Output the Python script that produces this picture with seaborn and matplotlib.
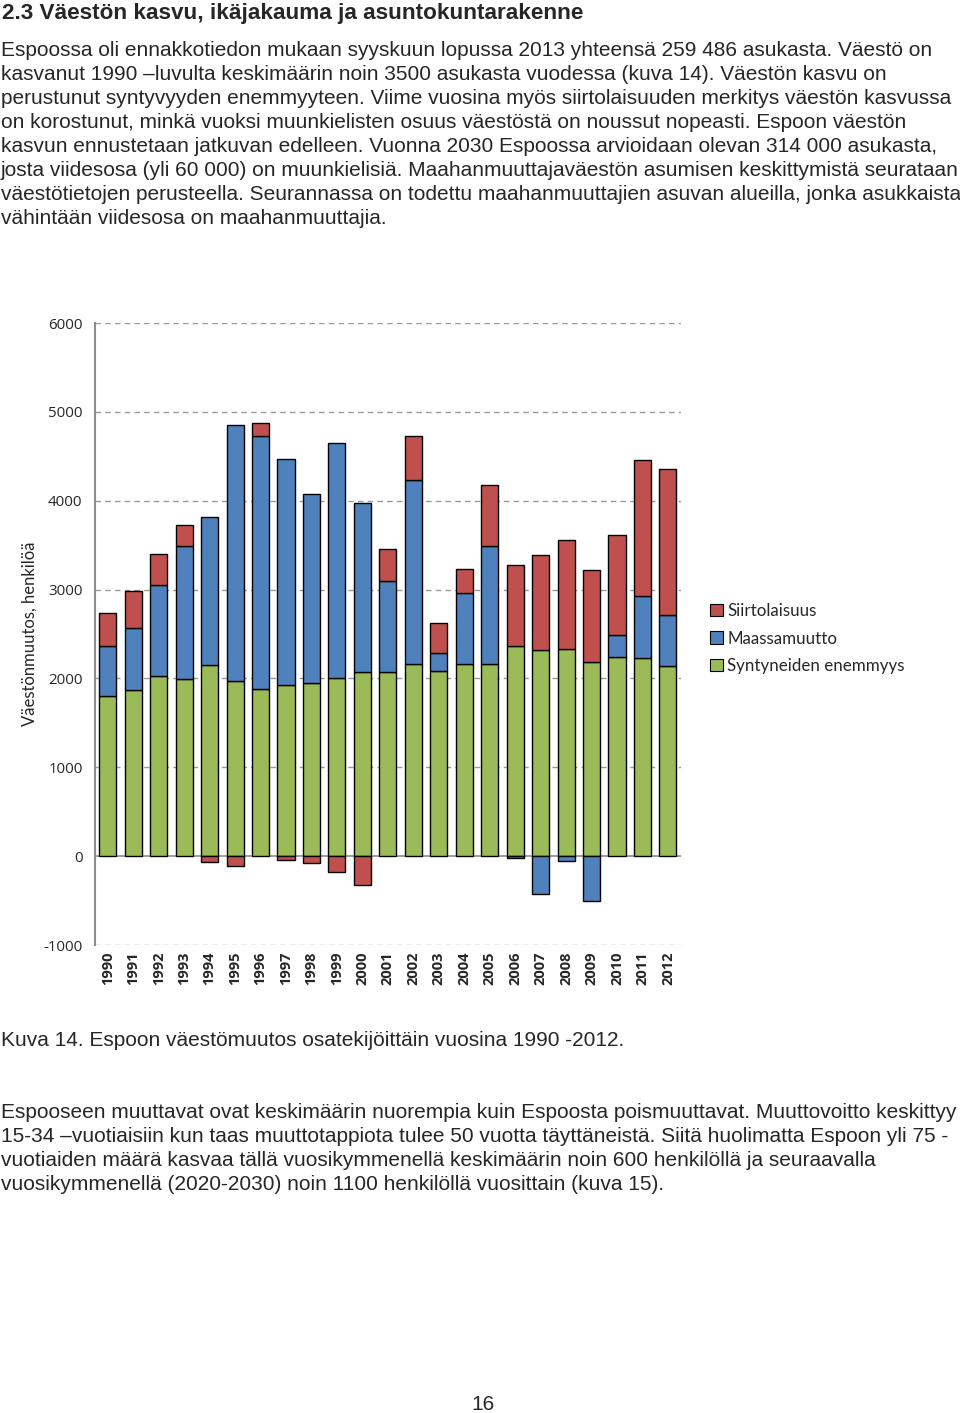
import numpy as np
import pandas as pd
import matplotlib
matplotlib.use("Agg")
import matplotlib.pyplot as plt
import seaborn as sns
from matplotlib.patches import Patch

# Data (persons per year)
years = [str(y) for y in range(1990, 2013)]
syntyneet = [1800, 1870, 2030, 1990, 2150, 1970, 1880, 1930, 1945, 2010, 2075,
             2075, 2165, 2085, 2165, 2165, 2370, 2325, 2335, 2190, 2245, 2235, 2140]
maassamuutto = [565, 695, 1020, 1500, 1670, 2885, 2850, 2545, 2130, 2640, 1895,
                1025, 2070, 205, 800, 1325, -20, -425, -55, -505, 240, 690, 570]
siirtolaisuus = [370, 420, 355, 235, -65, -110, 145, -40, -80, -180, -325,
                 355, 495, 330, 265, 685, 905, 1060, 1220, 1025, 1125, 1530, 1650]

df = pd.DataFrame({"vuosi": years, "syn": syntyneet, "maa": maassamuutto, "sii": siirtolaisuus})

c_red = "#C0504D"
c_blue = "#4F81BD"
c_green = "#9BBB59"

sns.set_style("white")
plt.rcParams["font.family"] = ["Liberation Sans", "DejaVu Sans"]
plt.rcParams["axes.unicode_minus"] = False

fig = plt.figure(figsize=(9.6, 14.13), dpi=100)
ax = fig.add_axes([0.099, 0.3312, 0.610, 0.4402])

# stacking: positive parts on top of each other, negative parts below zero
maa_pos = df["maa"].clip(lower=0)
maa_neg = df["maa"].clip(upper=0)
sii_pos = df["sii"].clip(lower=0)
sii_neg = df["sii"].clip(upper=0)

bar_kw = dict(width=0.67, edgecolor="black", linewidth=1.0, saturation=1, ax=ax)
sns.barplot(x=df["vuosi"], y=df["syn"], color=c_green, **bar_kw)
sns.barplot(x=df["vuosi"], y=maa_pos, bottom=df["syn"], color=c_blue, **bar_kw)
sns.barplot(x=df["vuosi"], y=sii_pos, bottom=df["syn"] + maa_pos, color=c_red, **bar_kw)
sns.barplot(x=df["vuosi"], y=maa_neg, color=c_blue, **bar_kw)
sns.barplot(x=df["vuosi"], y=sii_neg, bottom=maa_neg, color=c_red, **bar_kw)

# hide zero-height bars
for p in ax.patches:
    if p.get_height() == 0:
        p.set_visible(False)

ax.set_ylim(-1000, 6000)
ax.set_xlim(-0.5, len(years) - 0.5)
ax.set_yticks(range(-1000, 6001, 1000))
for v in range(-1000, 6001, 1000):
    if v != 0:
        ax.axhline(v, color="#9a9a9a", linestyle=(0, (4, 3)), linewidth=1.0, zorder=0)
ax.axhline(0, color="#8c8c8c", linewidth=1.2, zorder=0.5)

for s in ["top", "right", "bottom"]:
    ax.spines[s].set_visible(False)
ax.spines["left"].set_color("#8c8c8c")
ax.spines["left"].set_linewidth(1.5)
ax.tick_params(axis="y", direction="out", length=5, color="#8c8c8c", labelsize=10.8, pad=4)
ax.tick_params(axis="x", length=0, labelsize=10.5, pad=5)
plt.setp(ax.get_xticklabels(), rotation=90, fontweight="bold", family=["Open Sans", "DejaVu Sans"])
plt.setp(ax.get_yticklabels(), family=["Open Sans", "DejaVu Sans"])
ax.set_xlabel("")
ax.set_ylabel("Väestönmuutos, henkilöä", fontsize=12, family=["Lato", "DejaVu Sans"], labelpad=4)

handles = [Patch(facecolor=c_red, edgecolor="black", linewidth=0.8, label="Siirtolaisuus"),
           Patch(facecolor=c_blue, edgecolor="black", linewidth=0.8, label="Maassamuutto"),
           Patch(facecolor=c_green, edgecolor="black", linewidth=0.8, label="Syntyneiden enemmyys")]
fig.legend(handles=handles, loc="upper left", bbox_to_anchor=(0.724, 0.584), frameon=False,
           handlelength=0.75, handleheight=0.75, handletextpad=0.25, labelspacing=0.68,
           prop={"family": ["Lato", "DejaVu Sans"], "size": 12.2})

# page text
W, H = 960, 1413
def put(x, y, s, **kw):
    fig.text(x / W, 1 - y / H, s, va="center", ha="left", **kw)

put(2, 14, "2.3 Väestön kasvu, ikäjakauma ja asuntokuntarakenne", fontsize=16.2, fontweight="bold")
body = [
    "Espoossa oli ennakkotiedon mukaan syyskuun lopussa 2013 yhteensä 259 486 asukasta. Väestö on",
    "kasvanut 1990 \u2013luvulta keskimäärin noin 3500 asukasta vuodessa (kuva 14). Väestön kasvu on",
    "perustunut syntyvyyden enemmyyteen. Viime vuosina myös siirtolaisuuden merkitys väestön kasvussa",
    "on korostunut, minkä vuoksi muunkielisten osuus väestöstä on noussut nopeasti. Espoon väestön",
    "kasvun ennustetaan jatkuvan edelleen. Vuonna 2030 Espoossa arvioidaan olevan 314 000 asukasta,",
    "josta viidesosa (yli 60 000) on muunkielisiä. Maahanmuuttajaväestön asumisen keskittymistä seurataan",
    "väestötietojen perusteella. Seurannassa on todettu maahanmuuttajien asuvan alueilla, jonka asukkaista",
    "vähintään viidesosa on maahanmuuttajia.",
]
for i, line in enumerate(body):
    put(1, 50 + 24 * i, line, fontsize=15)

put(1, 1041, "Kuva 14. Espoon väestömuutos osatekijöittäin vuosina 1990 -2012.", fontsize=15)

body2 = [
    "Espooseen muuttavat ovat keskimäärin nuorempia kuin Espoosta poismuuttavat. Muuttovoitto keskittyy",
    "15-34 \u2013vuotiaisiin kun taas muuttotappiota tulee 50 vuotta täyttäneistä. Siitä huolimatta Espoon yli 75 -",
    "vuotiaiden määrä kasvaa tällä vuosikymmenellä keskimäärin noin 600 henkilöllä ja seuraavalla",
    "vuosikymmenellä (2020-2030) noin 1100 henkilöllä vuosittain (kuva 15).",
]
for i, line in enumerate(body2):
    put(1, 1112 + 24 * i, line, fontsize=15)

fig.text(483 / W, 1 - 1404 / H, "16", ha="center", va="center", fontsize=15)

fig.savefig("out.png", dpi=100)
